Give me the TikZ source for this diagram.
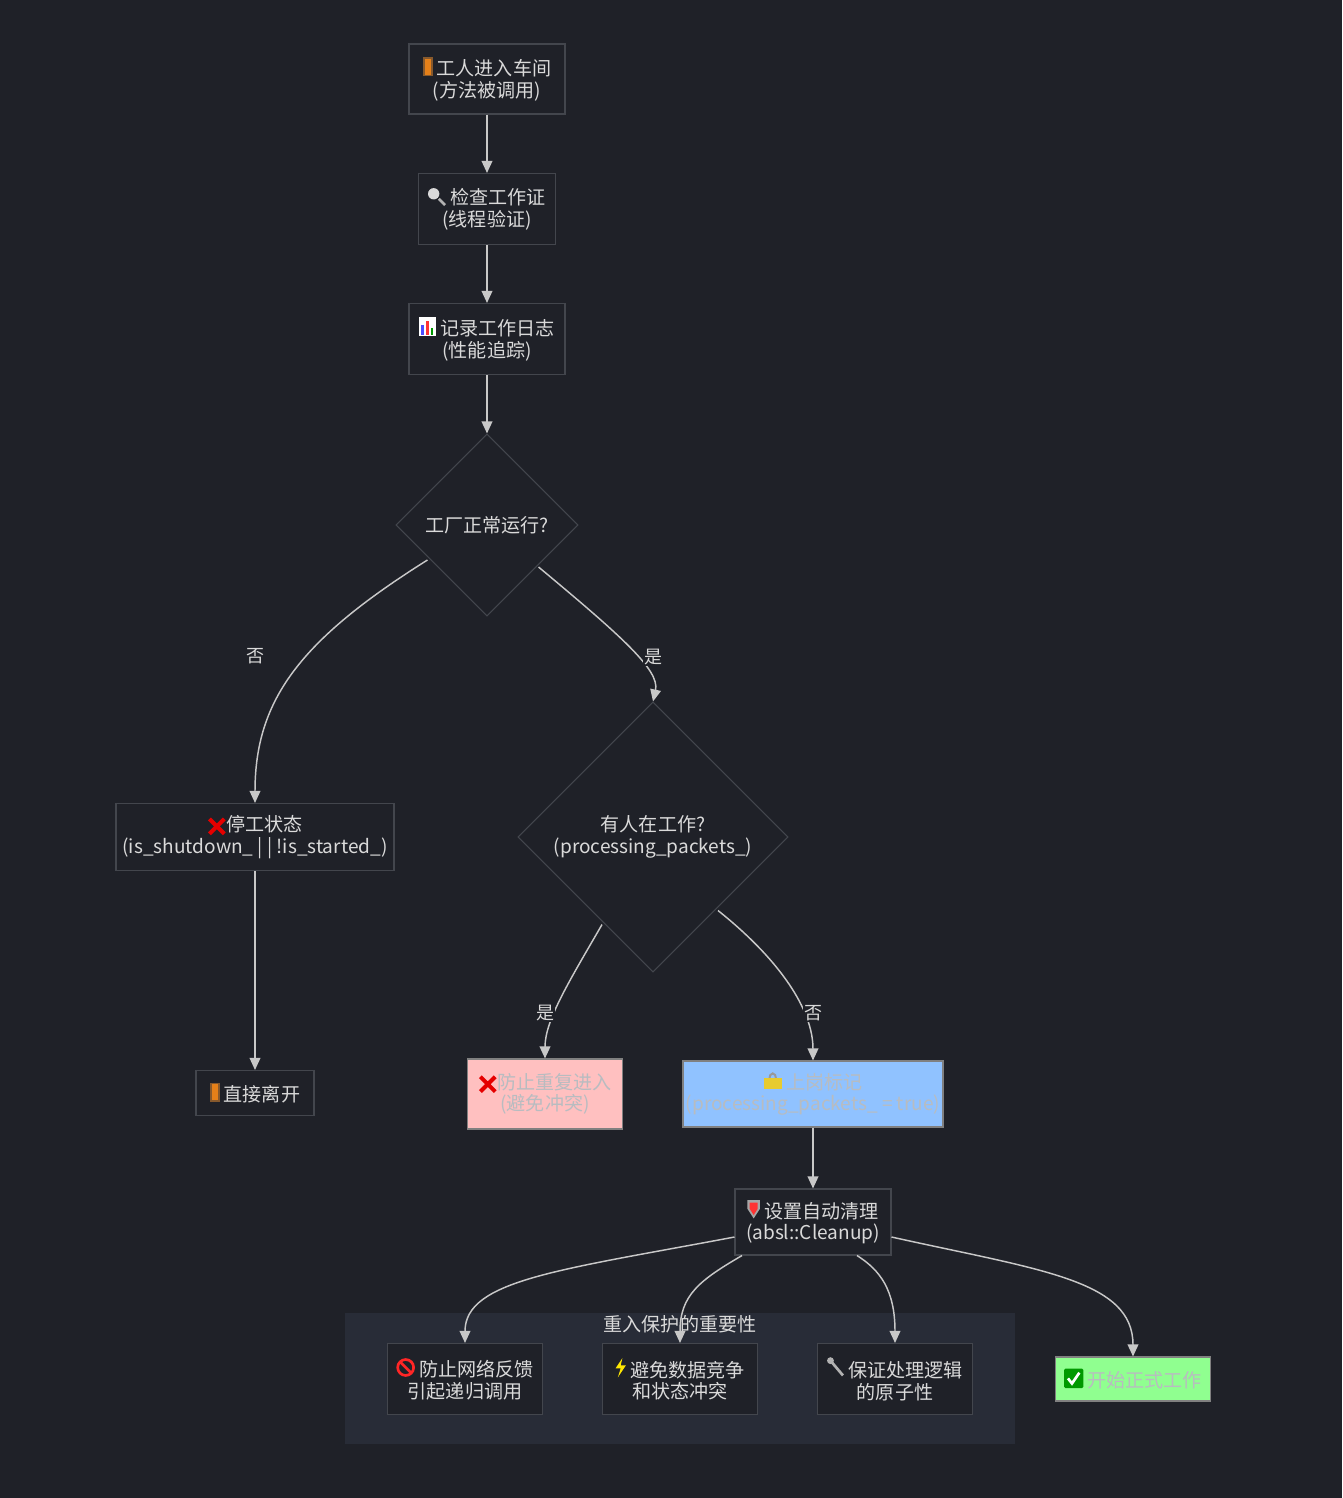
\documentclass[tikz,border=0pt]{standalone}
\usepackage{fontspec}
\setmainfont{Noto Sans CJK SC}
\usetikzlibrary{shapes.geometric,arrows.meta}
\definecolor{bg}{HTML}{1F2128}
\definecolor{bd}{HTML}{43464D}
\definecolor{tx}{HTML}{DADADA}
\definecolor{ln}{HTML}{C8C8C8}
\definecolor{cl}{HTML}{282C37}
\definecolor{pkf}{HTML}{FFC0C0}
\definecolor{blf}{HTML}{90C2FF}
\definecolor{grf}{HTML}{90FF90}
\definecolor{ctx}{HTML}{B8BCC0}
\tikzset{ic/.style={x=1.5cm,y=1.5cm}}
\newcommand{\icX}{\tikz[ic,baseline=-4pt]{\draw[red!90!black,line width=3pt](-.13,-.13)--(.13,.13)(-.13,.13)--(.13,-.13);}}
\newcommand{\icDoor}{\tikz[ic,baseline=-7pt]{\fill[brown!70!black](0,-.17)rectangle(.17,.17);\fill[orange!60!brown](.03,-.14)rectangle(.14,.14);}}
\newcommand{\icMag}{\tikz[ic,baseline=-7pt]{\draw[gray!60,line width=2pt](.06,-.06)--(.17,-.17);\fill[gray!30](-.03,.03)circle(.1);}}
\newcommand{\icChart}{\tikz[ic,baseline=-7pt]{\fill[white](0,-.17)rectangle(.3,.17);\fill[blue!70](.04,-.14)rectangle(.09,.02);\fill[red!80](.12,-.14)rectangle(.17,.1);\fill[green!60!black](.2,-.14)rectangle(.25,-.02);}}
\newcommand{\icLock}{\tikz[ic,baseline=-7pt]{\draw[gray!80,line width=1.5pt](.1,.02)arc(180:0:.06 and .1);\fill[yellow!60!brown](0,-.15)rectangle(.32,.04);}}
\newcommand{\icShield}{\tikz[ic,baseline=-7pt]{\fill[gray!70](0,.15)--(.22,.15)--(.22,0)--(.11,-.17)--(0,0)--cycle;\fill[red!80](.04,.11)--(.18,.11)--(.18,0)--(.11,-.11)--(.04,0)--cycle;}}
\newcommand{\icNo}{\tikz[ic,baseline=-7pt]{\draw[red!85,line width=2pt](0,0)circle(.14);\draw[red!85,line width=2pt](-.1,.1)--(.1,-.1);}}
\newcommand{\icBolt}{\tikz[ic,baseline=-7pt]{\fill[yellow!90!orange](.12,.17)--(0,-.01)--(.09,-.01)--(.04,-.17)--(.18,.04)--(.09,.04)--cycle;}}
\newcommand{\icWrench}{\tikz[ic,baseline=-7pt]{\draw[gray!60,line width=2pt](0,.14)--(.22,-.12);\fill[gray!60](0,.14)circle(.06);}}
\newcommand{\icCheck}{\tikz[ic,baseline=-7pt]{\fill[green!60!black,rounded corners=1pt](0,-.17)rectangle(.34,.17);\draw[white,line width=2pt](.07,0)--(.14,-.09)--(.27,.1);}}
\tikzset{
  box/.style={draw=bd,fill=bg,text=tx,align=center,inner sep=0pt,line width=0.8pt},
  dia/.style={diamond,draw=bd,fill=bg,text=tx,align=center,inner sep=0pt,line width=0.8pt,aspect=1},
  arr/.style={draw=ln,line width=1.1pt,-{Triangle[length=9pt,width=8pt]}},
  lab/.style={fill=bg,text=tx,inner sep=1pt,font=\fontsize{13.5}{15}\selectfont},
}
\begin{document}
\begin{tikzpicture}[x=0.75pt,y=-0.75pt,font=\fontsize{14.3}{16}\selectfont]
\fill[bg](0,0)rectangle(1342,1498);
\useasboundingbox(0,0)rectangle(1342,1498);
\fill[cl](345,1313)rectangle(1015,1444);
\node[text=tx] (ct) at (680,1324) {重入保护的重要性};
\node[box,minimum width=156*0.75pt,minimum height=70*0.75pt] (n1) at (487,79) {\icDoor\ 工人进入车间\\(方法被调用)};
\node[box,minimum width=137*0.75pt,minimum height=71*0.75pt] (n2) at (487,209) {\icMag\ 检查工作证\\(线程验证)};
\node[box,minimum width=156*0.75pt,minimum height=71*0.75pt] (n3) at (487,339) {\icChart\ 记录工作日志\\(性能追踪)};
\node[dia,minimum width=182*0.75pt,minimum height=182*0.75pt] (d1) at (487,525) {工厂正常运行?};
\node[dia,minimum width=270*0.75pt,minimum height=270*0.75pt] (d2) at (653,837) {有人在工作?\\(processing\_packets\_)};
\node[box,minimum width=278*0.75pt,minimum height=67*0.75pt] (st) at (255,837) {\icX 停工状态\\(is\_shutdown\_ | | !is\_started\_)};
\node[box,minimum width=118*0.75pt,minimum height=45*0.75pt] (lv) at (255,1093) {\icDoor\ 直接离开};
\node[box,fill=pkf,draw=gray,text=ctx,minimum width=155*0.75pt,minimum height=70*0.75pt] (pk) at (545,1094) {\icX 防止重复进入\\(避免冲突)};
\node[box,fill=blf,draw=gray,text=ctx,minimum width=260*0.75pt,minimum height=66*0.75pt] (bl) at (813,1094) {\icLock\ 上岗标记\\(processing\_packets\_ = true)};
\node[box,minimum width=156*0.75pt,minimum height=66*0.75pt] (cu) at (813,1222) {\icShield\ 设置自动清理\\(absl::Cleanup)};
\node[box,minimum width=155*0.75pt,minimum height=71*0.75pt] (c1) at (465,1379) {\icNo\ 防止网络反馈\\引起递归调用};
\node[box,minimum width=155*0.75pt,minimum height=71*0.75pt] (c2) at (680,1379) {\icBolt\ 避免数据竞争\\和状态冲突};
\node[box,minimum width=155*0.75pt,minimum height=71*0.75pt] (c3) at (895,1379) {\icWrench\ 保证处理逻辑\\的原子性};
\node[box,fill=grf,draw=gray,text=ctx,minimum width=155*0.75pt,minimum height=44*0.75pt] (gr) at (1133,1379) {\icCheck\ 开始正式工作};
\draw[arr](n1)--(n2);
\draw[arr](n2)--(n3);
\draw[arr](n3)--(d1);
\draw[arr](d1.west)++(32,35) coordinate(a1) (a1) .. controls (300,640) and (255,700) .. (st.north);
\draw[arr](d1.east)++(-40,42) coordinate(a2) (a2) .. controls (620,635) and (660,670) .. (d2.north);
\draw[arr](d2.south)++(-51,-48) coordinate(a3) (a3) .. controls (570,980) and (545,1020) .. (pk.north);
\draw[arr](d2.south)++(65,-62) coordinate(a4) (a4) .. controls (780,960) and (813,1010) .. (bl.north);
\draw[arr](st)--(lv);
\draw[arr](bl)--(cu);
\draw[arr](cu.west)++(0,15) coordinate(b1) (b1) .. controls (560,1270) and (465,1280) .. (c1.north);
\draw[arr](cu.south)++(-71,0) coordinate(b2) (b2) .. controls (700,1280) and (680,1295) .. (c2.north);
\draw[arr](cu.south)++(44,0) coordinate(b3) (b3) .. controls (880,1270) and (895,1290) .. (c3.north);
\draw[arr](cu.east)++(0,15) coordinate(b4) (b4) .. controls (1040,1270) and (1133,1280) .. (gr.north);
\node[lab] (l1) at (255,656) {否};
\node[lab] (l2) at (653,657) {是};
\node[lab] (l3) at (545,1013) {是};
\node[lab] (l4) at (813,1013) {否};
\end{tikzpicture}
\end{document}
